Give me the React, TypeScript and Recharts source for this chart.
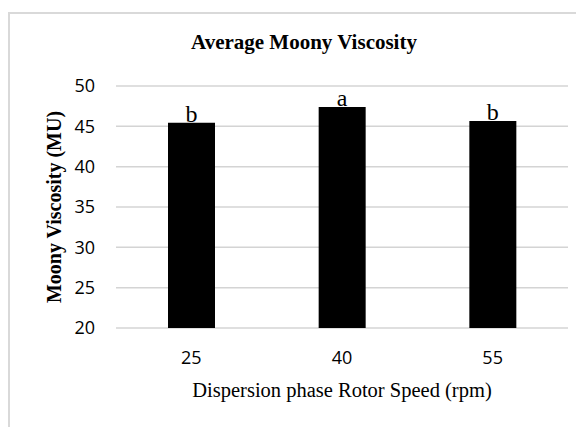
import React from "react"
import { BarChart, Bar, XAxis, YAxis, CartesianGrid, LabelList } from "recharts"

const speeds = ["25", "40", "55"]
const viscosity = [45.45, 47.4, 45.65]
const groups = ["b", "a", "b"]
const yTicks = [20, 25, 30, 35, 40, 45, 50]

const data = speeds.map((s, i) => ({ speed: s, value: viscosity[i], sig: groups[i] }))

const SERIF = "'Liberation Serif', 'DejaVu Serif', serif"
const SANS = "'Open Sans', 'Liberation Sans', sans-serif"

const App = () => {
  return (
    <div style={{ paddingTop: 4 }}>
      <div
        style={{
          position: "relative",
          width: 574,
          height: 413,
          borderLeft: "2px solid #d9d9d9",
          borderTop: "2px solid #d9d9d9",
          background: "#fff",
        }}
      >
        <div
          style={{
            position: "absolute",
            left: 0,
            top: 18,
            width: 588,
            textAlign: "center",
            fontFamily: SERIF,
            fontWeight: "bold",
            fontSize: 21,
            lineHeight: "21px",
            color: "#000",
          }}
        >
          Average Moony Viscosity
        </div>
        <BarChart
          width={574}
          height={413}
          data={data}
          margin={{ top: 72, right: 16, left: 0, bottom: 39 }}
        >
          <CartesianGrid vertical={false} stroke="#d4d4d4" strokeWidth={1.5} />
          <XAxis
            dataKey="speed"
            height={60}
            axisLine={false}
            tickLine={false}
            tickSize={0}
            tickMargin={23}
            tick={{ fontFamily: SANS, fontSize: 18, fill: "#000" }}
            label={{
              content: ({ viewBox }: any) => (
                <text
                  x={viewBox.x + viewBox.width / 2}
                  y={viewBox.y + 62}
                  textAnchor="middle"
                  dominantBaseline="central"
                  fontFamily={SERIF}
                  fontSize={20.5}
                  fill="#000"
                >
                  Dispersion phase Rotor Speed (rpm)
                </text>
              ),
            }}
          />
          <YAxis
            width={106}
            domain={[20, 50]}
            ticks={yTicks}
            axisLine={false}
            tickLine={false}
            tickSize={0}
            tickMargin={21}
            tick={{ fontFamily: SANS, fontSize: 18, fill: "#000" }}
            label={{
              content: ({ viewBox }: any) => {
                const cx = viewBox.x + 44
                const cy = viewBox.y + viewBox.height / 2
                return (
                  <text
                    x={cx}
                    y={cy}
                    transform={`rotate(-90, ${cx}, ${cy})`}
                    textAnchor="middle"
                    dominantBaseline="central"
                    fontFamily={SERIF}
                    fontWeight="bold"
                    fontSize={20}
                    fill="#000"
                  >
                    Moony Viscosity (MU)
                  </text>
                )
              },
            }}
          />
          <Bar dataKey="value" fill="#000" barSize={47} isAnimationActive={false}>
            <LabelList
              dataKey="sig"
              position="top"
              offset={1}
              style={{ fontFamily: SERIF, fontSize: 24, fill: "#000" }}
            />
          </Bar>
        </BarChart>
      </div>
    </div>
  )
}

export default App
